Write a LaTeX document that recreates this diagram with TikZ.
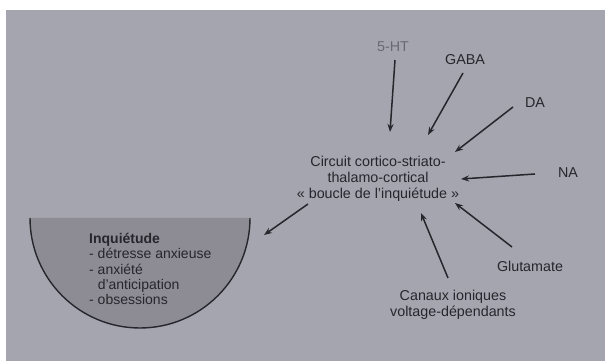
\documentclass[tikz,border=0pt]{standalone}
\usepackage{fontspec}
\setmainfont{Liberation Sans}
\usetikzlibrary{arrows.meta}
\definecolor{paper}{RGB}{164,165,175}
\definecolor{bowl}{RGB}{141,139,147}
\definecolor{ink}{RGB}{38,38,44}
\definecolor{faded}{RGB}{105,105,114}
\begin{document}
\begin{tikzpicture}[x=1pt,y=1pt,
  lbl/.style={text=ink,inner sep=0pt,font=\fontsize{14.3}{16.3}\selectfont,align=center},
  feed/.style={draw=ink,line width=1.5pt,-{Stealth[length=8pt,width=6pt]}}]
  % page and print area
  \fill[white] (0,0) rectangle (605,361);
  \fill[paper] (6,0) rectangle (605,351);
  \useasboundingbox (0,0) rectangle (605,361);

  % half bowl holding the symptoms
  \fill[bowl] (30,143) arc[start angle=180,end angle=360,radius=110] -- cycle;
  \draw[ink,line width=1.4pt] (30,143) arc[start angle=180,end angle=360,radius=110];
  \node[lbl,anchor=west,align=left,font=\fontsize{14}{15.3}\selectfont] (inq) at (89,92)
    {\textbf{Inquiétude}\\- détresse anxieuse\\- anxiété\\\phantom{- }d’anticipation\\- obsessions};

  % central loop
  \node[lbl] (loop) at (378,182)
    {Circuit cortico-striato-\\thalamo-cortical\\« boucle de l’inquiétude »};

  % inputs
  \node[lbl,text=faded] (ht)   at (393,314) {5-HT};
  \node[lbl] (gaba) at (465,301) {GABA};
  \node[lbl] (da)   at (535,258) {DA};
  \node[lbl] (na)   at (568,188) {NA};
  \node[lbl] (glu)  at (530,95)  {Glutamate};
  \node[lbl] (ion)  at (453,56)  {Canaux ioniques\\voltage-dépendants};

  \coordinate (htS) at (395,301);   \coordinate (htE) at (390,229);
  \coordinate (gaS) at (463,288);   \coordinate (gaE) at (428,226);
  \coordinate (daS) at (513,254);   \coordinate (daE) at (455,209);
  \coordinate (naS) at (535,187);   \coordinate (naE) at (461,182);
  \coordinate (glS) at (512,114);   \coordinate (glE) at (455,158);
  \coordinate (ioS) at (448,83);    \coordinate (ioE) at (421,148);
  \coordinate (outS) at (308,157);  \coordinate (outE) at (264,126);

  \draw[feed] (htS) -- (htE);
  \draw[feed] (gaS) -- (gaE);
  \draw[feed] (daS) -- (daE);
  \draw[feed] (naS) -- (naE);
  \draw[feed] (glS) -- (glE);
  \draw[feed] (ioS) -- (ioE);
  \draw[feed] (outS) -- (outE);
\end{tikzpicture}
\end{document}
